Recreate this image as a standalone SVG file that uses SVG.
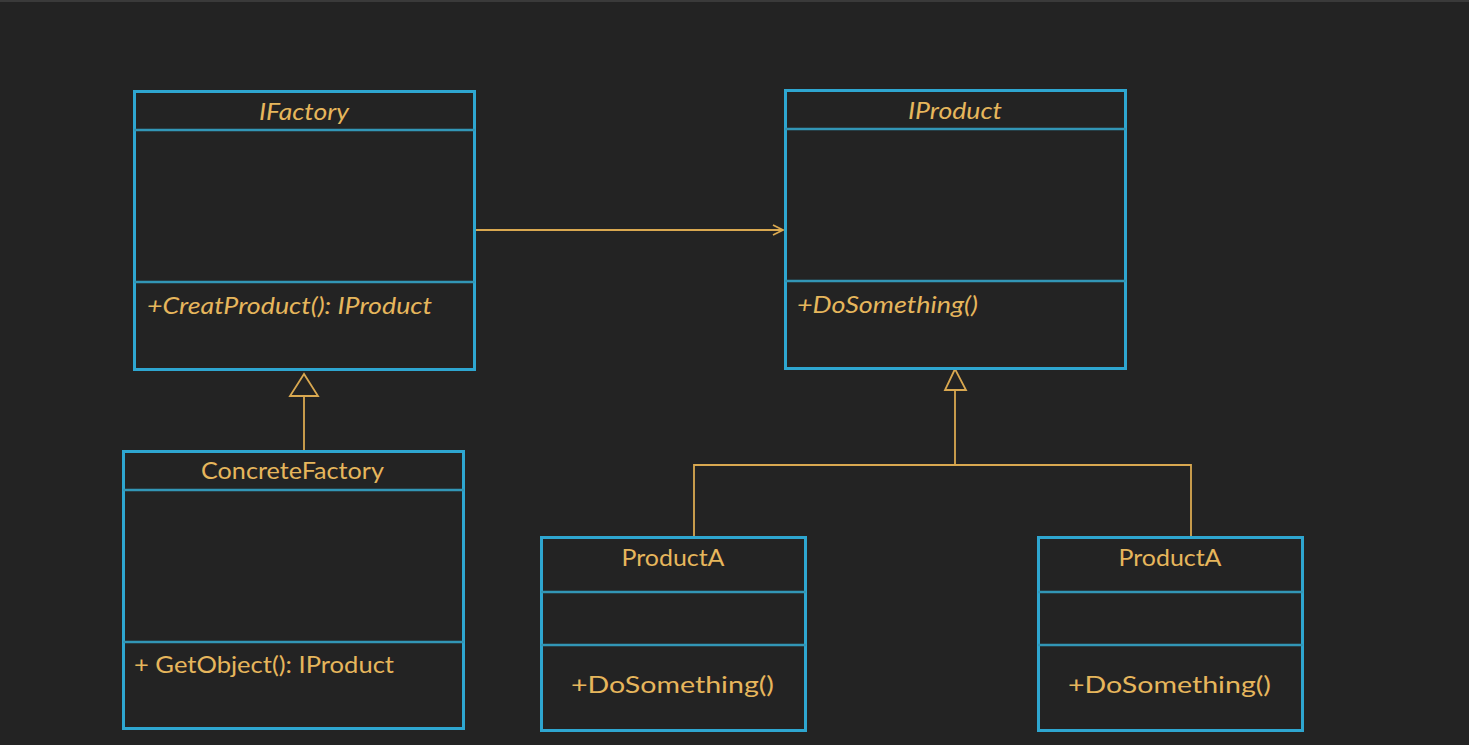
<svg xmlns="http://www.w3.org/2000/svg" width="1469" height="745" viewBox="0 0 1469 745">
<style>
.box{fill:#232323;stroke:#2ea6d0;stroke-width:3}
.sep{stroke:#3296b6;stroke-width:2.5}
.t{font-family:Lato,"Open Sans","Liberation Sans",sans-serif;fill:#e6b65c;font-size:24px}
.i{font-style:italic}
.c{stroke:#d9a850;stroke-width:1.8;fill:none}
.tri{stroke:#d9a850;stroke-width:1.8;fill:#232323}
</style>
<defs>
<marker id="open" markerWidth="14" markerHeight="14" refX="11" refY="6" orient="auto" markerUnits="userSpaceOnUse">
<path d="M1,1 L11,6 L1,11" fill="none" stroke="#d9a850" stroke-width="1.8"/>
</marker>
</defs>
<rect width="1469" height="745" fill="#232323"/>
<line x1="0" y1="1" x2="1469" y2="1" stroke="#3a3a3a" stroke-width="2"/>
<g id="connectors">
<line class="c" x1="476" y1="230" x2="783" y2="230" marker-end="url(#open)"/>
<line class="c" x1="304" y1="396" x2="304" y2="451"/>
<polygon class="tri" points="304,374 290,396 318,396"/>
<polyline class="c" points="694,537 694,465 1191,465 1191,537"/>
<line class="c" x1="955" y1="390" x2="955" y2="465"/>
<polygon class="tri" points="955,369 945,390 966,390"/>
</g>
<g id="IFactory">
<rect class="box" x="134.5" y="91.5" width="340" height="278"/>
<line class="sep" x1="134" y1="130" x2="475" y2="130"/>
<line class="sep" x1="134" y1="282" x2="475" y2="282"/>
<text class="t i" x="304" y="120" text-anchor="middle" textLength="90" lengthAdjust="spacingAndGlyphs">IFactory</text>
<text class="t i" x="147" y="314" textLength="285" lengthAdjust="spacingAndGlyphs">+CreatProduct(): IProduct</text>
</g>
<g id="IProduct">
<rect class="box" x="785.5" y="90.5" width="340" height="278"/>
<line class="sep" x1="785" y1="129" x2="1126" y2="129"/>
<line class="sep" x1="785" y1="281" x2="1126" y2="281"/>
<text class="t i" x="955" y="119" text-anchor="middle" textLength="94" lengthAdjust="spacingAndGlyphs">IProduct</text>
<text class="t i" x="797" y="313" textLength="181" lengthAdjust="spacingAndGlyphs">+DoSomething()</text>
</g>
<g id="ConcreteFactory">
<rect class="box" x="123.5" y="451.5" width="340" height="277"/>
<line class="sep" x1="123" y1="490" x2="464" y2="490"/>
<line class="sep" x1="123" y1="642" x2="464" y2="642"/>
<text class="t" x="292.5" y="479" text-anchor="middle" textLength="183" lengthAdjust="spacingAndGlyphs">ConcreteFactory</text>
<text class="t" x="134" y="673" textLength="260" lengthAdjust="spacingAndGlyphs">+ GetObject(): IProduct</text>
</g>
<g id="ProductA1">
<rect class="box" x="541.5" y="537.5" width="264" height="193"/>
<line class="sep" x1="541" y1="592" x2="806" y2="592"/>
<line class="sep" x1="541" y1="645" x2="806" y2="645"/>
<text class="t" x="673" y="566" text-anchor="middle" textLength="103" lengthAdjust="spacingAndGlyphs" font-size="25">ProductA</text>
<text class="t" x="672.5" y="693" text-anchor="middle" textLength="203" lengthAdjust="spacingAndGlyphs" font-size="27">+DoSomething()</text>
</g>
<g id="ProductA2">
<rect class="box" x="1038.5" y="537.5" width="264" height="193"/>
<line class="sep" x1="1038" y1="592" x2="1303" y2="592"/>
<line class="sep" x1="1038" y1="645" x2="1303" y2="645"/>
<text class="t" x="1170" y="566" text-anchor="middle" textLength="103" lengthAdjust="spacingAndGlyphs" font-size="25">ProductA</text>
<text class="t" x="1169.5" y="693" text-anchor="middle" textLength="203" lengthAdjust="spacingAndGlyphs" font-size="27">+DoSomething()</text>
</g>
</svg>
